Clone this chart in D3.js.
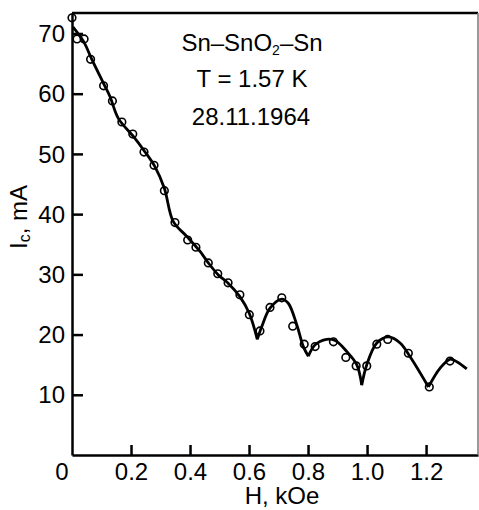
<!DOCTYPE html>
<html lang="en">

<head>
    <meta charset="UTF-8" />
    <title>Sn-SnO2-Sn critical current</title>
    <script src="https://d3js.org/d3.v7.min.js"></script>
    <style>
        body { margin: 0; background: #fff; }
        svg text { font-family: "Liberation Sans", Arial, sans-serif; fill: #000; }
    </style>
</head>

<body>
    <div id="chart"></div>

    <script>
        var w = 479;
        var h = 510;

        // measured points (H in kOe, Ic in mA)
        var pointH = [0.000, 0.017, 0.041, 0.063, 0.107, 0.137, 0.169, 0.206, 0.244, 0.278,
            0.313, 0.349, 0.392, 0.420, 0.462, 0.494, 0.529, 0.569, 0.601, 0.637,
            0.671, 0.711, 0.748, 0.787, 0.824, 0.886, 0.928, 0.963, 0.999, 1.033,
            1.070, 1.140, 1.211, 1.281];
        var pointI = [72.6, 69.1, 69.1, 65.7, 61.3, 58.8, 55.3, 53.3, 50.3, 48.1,
            43.9, 38.6, 35.7, 34.5, 31.9, 30.1, 28.6, 26.6, 23.3, 20.6,
            24.5, 26.1, 21.4, 18.4, 18.0, 18.8, 16.2, 14.8, 14.8, 18.4,
            19.2, 16.9, 11.3, 15.6];

        // drawn curve; cusps split it into arcs
        var curveH = [0.003, 0.040, 0.068, 0.108, 0.129, 0.157, 0.208, 0.242, 0.281, 0.313,
            0.343, 0.389, 0.434, 0.462, 0.496, 0.530, 0.569, 0.601, 0.628,
            0.643, 0.671, 0.711, 0.733, 0.762, 0.784, 0.801,
            0.824, 0.863, 0.892, 0.931, 0.965, 0.982,
            0.999, 1.033, 1.072, 1.112, 1.146, 1.208,
            1.247, 1.281, 1.304, 1.338];
        var curveI = [71.1, 68.6, 65.6, 61.6, 59.5, 55.9, 52.9, 50.7, 47.9, 44.3,
            38.8, 36.3, 33.8, 31.9, 29.9, 28.5, 26.3, 23.5, 19.2,
            21.3, 24.4, 25.9, 25.2, 21.6, 18.0, 16.4,
            18.3, 19.2, 19.0, 17.2, 15.0, 11.6,
            15.0, 18.6, 19.6, 18.6, 16.3, 11.3,
            14.4, 15.9, 15.5, 14.3];
        var cuspH = [0.628, 0.801, 0.982, 1.208];

        var xTicks = [0.2, 0.4, 0.6, 0.8, 1.0, 1.2];
        var yTicks = [10, 20, 30, 40, 50, 60, 70];
        var notes = ["Sn\u2013SnO", "T = 1.57 K", "28.11.1964"];

        var padLeft = 72, padRight = 478, padTop = 13, padBottom = 455;
        var fs = "24px";

        var svg = d3.select("#chart")
            .append("svg")
            .attr("width", w)
            .attr("height", h);

        var xScale = d3.scaleLinear()
            .domain([0, 1.376])
            .range([padLeft, padRight]);

        var yScale = d3.scaleLinear()
            .domain([0, 73.4])
            .range([padBottom, padTop]);

        // ticks point inward
        var xAxis = d3.axisBottom(xScale)
            .tickValues(xTicks)
            .tickSize(-10)
            .tickSizeOuter(0)
            .tickPadding(8)
            .tickFormat(d3.format(".1f"));

        var yAxis = d3.axisLeft(yScale)
            .tickValues(yTicks)
            .tickSize(-11)
            .tickSizeOuter(0)
            .tickPadding(7)
            .tickFormat(d3.format("d"));

        var gx = svg.append("g")
            .attr("transform", "translate(0," + padBottom + ")")
            .call(xAxis);

        var gy = svg.append("g")
            .attr("transform", "translate(" + padLeft + ",0)")
            .call(yAxis);

        [gx, gy].forEach(function (g) {
            g.attr("font-size", null).attr("font-family", null);
            g.select(".domain").attr("stroke", "#000").attr("stroke-width", 2.5);
            g.selectAll(".tick line").attr("stroke", "#000").attr("stroke-width", 2.5);
            g.selectAll(".tick text")
                .style("font-size", fs)
                .attr("fill", "#000");
        });
        gx.selectAll(".tick text").attr("dy", "0.71em");
        gy.selectAll(".tick text").attr("dy", "0.34em");

        // frame top and right
        svg.append("line")
            .attr("x1", padLeft).attr("x2", padRight)
            .attr("y1", padTop).attr("y2", padTop)
            .attr("stroke", "#000").attr("stroke-width", 2.5);
        svg.append("line")
            .attr("x1", padRight).attr("x2", padRight)
            .attr("y1", padTop).attr("y2", padBottom)
            .attr("stroke", "#777").attr("stroke-width", 1.5);

        // shared origin label
        svg.append("text")
            .attr("x", xScale(0) - 10)
            .attr("y", 480)
            .attr("text-anchor", "middle")
            .style("font-size", fs)
            .text("0");

        // axis titles
        svg.append("text")
            .attr("x", 282)
            .attr("y", 504)
            .attr("text-anchor", "middle")
            .style("font-size", fs)
            .text("H, kOe");

        var ylab = svg.append("text")
            .attr("transform", "translate(27,217) rotate(-90)")
            .attr("text-anchor", "middle")
            .style("font-size", fs);
        ylab.append("tspan").text("I");
        ylab.append("tspan").attr("dy", 3).style("font-size", "16px").text("c");
        ylab.append("tspan").attr("dy", -3).text(", mA");

        // curve, drawn arc by arc so the cusps stay sharp
        var curvePts = curveH.map(function (d, i) { return { h: d, i: curveI[i] }; });
        var arcs = [];
        var current = [];
        curvePts.forEach(function (p) {
            current.push(p);
            if (cuspH.indexOf(p.h) >= 0) {
                arcs.push(current);
                current = [p];
            }
        });
        arcs.push(current);

        var line = d3.line()
            .x(function (d) { return xScale(d.h); })
            .y(function (d) { return yScale(d.i); })
            .curve(d3.curveCatmullRom.alpha(0.5));

        arcs.forEach(function (a) {
            svg.append("path")
                .datum(a)
                .attr("fill", "none")
                .attr("stroke", "#000")
                .attr("stroke-width", 2.8)
                .attr("stroke-linejoin", "round")
                .attr("d", line);
        });

        // measured points, open circles
        svg.selectAll("circle.pt")
            .data(pointH)
            .enter()
            .append("circle")
            .attr("class", "pt")
            .attr("cx", function (d) { return xScale(d); })
            .attr("cy", function (d, i) { return yScale(pointI[i]); })
            .attr("r", 3.8)
            .attr("fill", "none")
            .attr("stroke", "#000")
            .attr("stroke-width", 1.6);

        // annotation block
        var t1 = svg.append("text")
            .attr("x", 252).attr("y", 51)
            .attr("text-anchor", "middle")
            .style("font-size", fs);
        t1.append("tspan").text(notes[0]);
        t1.append("tspan").attr("dy", 4).style("font-size", "14px").text("2");
        t1.append("tspan").attr("dy", -4).text("\u2013Sn");

        svg.append("text")
            .attr("x", 252).attr("y", 87)
            .attr("text-anchor", "middle")
            .style("font-size", fs)
            .text(notes[1]);

        svg.append("text")
            .attr("x", 251).attr("y", 125)
            .attr("text-anchor", "middle")
            .style("font-size", fs)
            .text(notes[2]);
    </script>
</body>

</html>
